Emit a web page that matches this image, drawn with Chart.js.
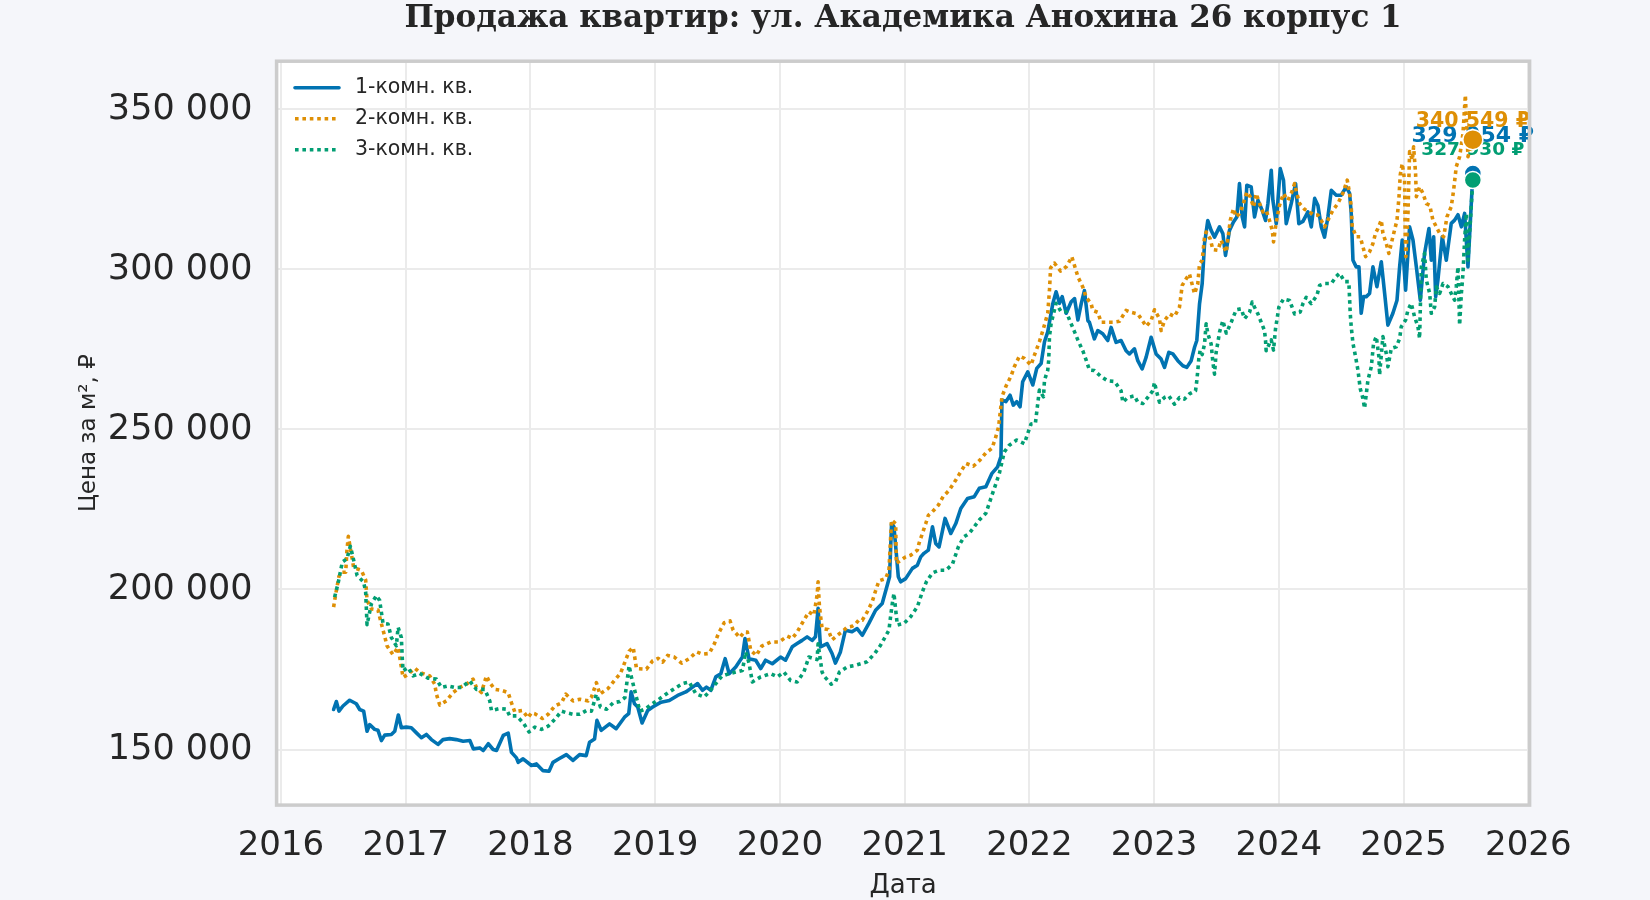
<!DOCTYPE html>
<html><head><meta charset="utf-8">
<script src="https://cdn.jsdelivr.net/npm/chart.js@4.4.1/dist/chart.umd.min.js"></script>
<style>
html,body{margin:0;padding:0;background:#f5f6fa;}
#wrap{width:1650px;height:900px;}
</style></head><body>
<div id="wrap"><canvas id="c" width="1650" height="900"></canvas></div>
<script>
const chartTitle = 'Продажа квартир: ул. Академика Анохина 26 корпус 1';
const xAxisTitle = 'Дата';
const yAxisTitle = 'Цена за м², ₽';
const seriesNames = ['1-комн. кв.', '2-комн. кв.', '3-комн. кв.'];
const xTicks = [2016, 2017, 2018, 2019, 2020, 2021, 2022, 2023, 2024, 2025, 2026];
const yTicks = [150000, 200000, 250000, 300000, 350000];

// 1-комн. кв. (dates as decimal years)
const dates1 = [
2016.422,2016.444,2016.465,2016.497,2016.551,2016.604,2016.631,2016.663,2016.690,2016.711,
2016.751,2016.778,2016.805,2016.832,2016.885,2016.912,2016.941,2016.965,2017.005,2017.045,
2017.086,2017.126,2017.166,2017.206,2017.259,2017.299,2017.353,2017.406,2017.460,2017.515,
2017.542,2017.594,2017.622,2017.662,2017.701,2017.728,2017.782,2017.822,2017.848,2017.888,
2017.902,2017.941,2018.008,2018.048,2018.101,2018.149,2018.181,2018.229,2018.288,2018.341,
2018.394,2018.447,2018.474,2018.514,2018.533,2018.567,2018.634,2018.687,2018.754,2018.788,
2018.807,2018.834,2018.860,2018.895,2018.940,2018.980,2019.047,2019.113,2019.180,2019.246,
2019.300,2019.340,2019.379,2019.411,2019.446,2019.486,2019.526,2019.561,2019.593,2019.646,
2019.699,2019.720,2019.752,2019.806,2019.846,2019.885,2019.939,2020.005,2020.045,2020.099,
2020.138,2020.178,2020.218,2020.258,2020.285,2020.306,2020.325,2020.378,2020.418,2020.445,
2020.485,2020.525,2020.578,2020.619,2020.660,2020.713,2020.767,2020.820,2020.861,2020.879,
2020.895,2020.914,2020.933,2020.949,2020.968,2021.008,2021.062,2021.102,2021.129,2021.155,
2021.190,2021.223,2021.249,2021.276,2021.324,2021.370,2021.410,2021.450,2021.504,2021.558,
2021.598,2021.651,2021.700,2021.745,2021.772,2021.780,2021.812,2021.845,2021.871,2021.898,
2021.925,2021.946,2021.987,2022.027,2022.059,2022.094,2022.121,2022.147,2022.188,2022.214,
2022.241,2022.263,2022.295,2022.335,2022.362,2022.389,2022.416,2022.441,2022.469,2022.481,
2022.521,2022.548,2022.588,2022.628,2022.655,2022.695,2022.735,2022.775,2022.802,2022.842,
2022.869,2022.904,2022.936,2022.976,2023.016,2023.056,2023.083,2023.118,2023.150,2023.190,
2023.230,2023.262,2023.297,2023.324,2023.342,2023.364,2023.385,2023.404,2023.430,2023.457,
2023.484,2023.524,2023.551,2023.572,2023.604,2023.636,2023.663,2023.684,2023.706,2023.725,
2023.743,2023.778,2023.805,2023.832,2023.866,2023.893,2023.912,2023.939,2023.952,2023.979,
2024.011,2024.037,2024.059,2024.099,2024.134,2024.160,2024.193,2024.233,2024.260,2024.287,
2024.313,2024.340,2024.366,2024.393,2024.420,2024.460,2024.500,2024.540,2024.567,2024.580,
2024.594,2024.620,2024.642,2024.660,2024.679,2024.701,2024.727,2024.754,2024.786,2024.821,
2024.848,2024.874,2024.914,2024.947,2024.968,2024.989,2025.016,2025.048,2025.075,2025.102,
2025.134,2025.168,2025.203,2025.222,2025.241,2025.257,2025.275,2025.310,2025.342,2025.382,
2025.409,2025.436,2025.463,2025.489,2025.516,2025.555];
const values1 = [
162500,165000,162000,163600,165400,164300,162500,162000,155700,157800,
156300,156000,152800,154500,154700,155700,160800,156800,157000,156800,
155200,153700,154700,153100,151600,153100,153400,153100,152600,152800,
150200,150500,149700,151800,150000,149700,154400,155100,149100,147400,
146000,147100,145000,145500,143400,143200,146000,147100,148400,146600,
148400,148100,152300,153300,159100,156000,158000,156500,160100,161200,
168000,164300,163300,158300,162200,163300,164800,165300,166900,168000,
169500,170600,168500,169500,168500,172700,173700,178400,173700,175800,
178900,184700,178400,177900,175300,177900,176800,178900,177900,182100,
183100,184100,185200,184100,185200,194100,182100,183100,180000,177000,
180500,187300,186800,187800,185700,189400,193500,195600,201400,204000,
220600,219600,211300,204000,202400,203400,206600,207600,210200,211300,
212300,219600,214400,213300,222200,217500,220600,225300,228400,229000,
231600,232100,236300,238300,241500,259200,258700,260700,257600,258700,
257100,264900,268000,263900,269100,270600,277400,280500,289400,293000,
289400,291500,286300,289900,290900,284200,289400,293400,284000,283500,
278300,280900,279900,277800,281900,277200,277800,274600,273600,275200,
271500,268900,272600,278800,273600,272000,269400,274100,273600,271500,
269900,269400,271500,275700,277800,289300,295500,308000,315300,312200,
310100,313300,311200,304400,312200,314800,316400,326800,316400,313300,
326300,325800,316400,321600,318500,315300,320600,331000,321600,314300,
331500,327900,314300,320600,326800,314300,315000,318000,313300,322200,
320000,313300,310100,316400,324700,323200,323200,325800,323800,317500,
302900,300800,300800,286300,291500,291500,292500,300800,294600,302400,
292500,282600,286300,290400,300800,309200,293500,313300,309200,300800,
290400,305000,312800,302900,310200,291500,296700,310200,302900,314400,
315400,317100,313300,317500,300800,329954];

// 2-комн. кв.
const dates2 = [
2016.422,2016.439,2016.465,2016.484,2016.519,2016.529,2016.540,2016.583,2016.644,2016.679,
2016.690,2016.725,2016.778,2016.797,2016.830,2016.850,2016.898,2016.939,2016.979,2017.019,
2017.072,2017.112,2017.193,2017.233,2017.246,2017.273,2017.326,2017.380,2017.433,2017.487,
2017.540,2017.567,2017.607,2017.647,2017.674,2017.714,2017.767,2017.821,2017.848,2017.874,
2017.936,2017.981,2018.008,2018.035,2018.096,2018.142,2018.195,2018.249,2018.283,2018.342,
2018.396,2018.463,2018.489,2018.529,2018.556,2018.623,2018.676,2018.722,2018.791,2018.824,
2018.837,2018.850,2018.930,2018.979,2019.024,2019.060,2019.100,2019.153,2019.212,2019.273,
2019.332,2019.379,2019.433,2019.473,2019.507,2019.553,2019.600,2019.625,2019.646,2019.678,
2019.712,2019.739,2019.766,2019.811,2019.854,2019.925,2019.992,2020.059,2020.099,2020.138,
2020.192,2020.232,2020.272,2020.298,2020.306,2020.317,2020.338,2020.386,2020.418,2020.471,
2020.500,2020.538,2020.578,2020.606,2020.631,2020.660,2020.700,2020.740,2020.767,2020.794,
2020.847,2020.874,2020.895,2020.928,2020.933,2020.954,2021.008,2021.048,2021.102,2021.115,
2021.169,2021.190,2021.223,2021.271,2021.308,2021.357,2021.410,2021.450,2021.491,2021.550,
2021.603,2021.651,2021.700,2021.727,2021.753,2021.780,2021.812,2021.853,2021.879,2021.920,
2021.960,2022.013,2022.040,2022.080,2022.113,2022.147,2022.161,2022.170,2022.200,2022.250,
2022.300,2022.340,2022.389,2022.428,2022.455,2022.495,2022.508,2022.548,2022.575,2022.615,
2022.668,2022.722,2022.775,2022.816,2022.869,2022.896,2022.936,2022.976,2023.003,2023.043,
2023.056,2023.083,2023.123,2023.163,2023.203,2023.225,2023.257,2023.283,2023.324,2023.350,
2023.364,2023.385,2023.404,2023.417,2023.449,2023.471,2023.511,2023.537,2023.578,2023.610,
2023.636,2023.658,2023.684,2023.711,2023.743,2023.770,2023.797,2023.818,2023.845,2023.872,
2023.898,2023.925,2023.947,2023.957,2023.979,2024.005,2024.037,2024.072,2024.099,2024.126,
2024.144,2024.166,2024.206,2024.246,2024.286,2024.313,2024.340,2024.367,2024.393,2024.433,
2024.473,2024.513,2024.548,2024.567,2024.580,2024.588,2024.620,2024.652,2024.674,2024.695,
2024.727,2024.754,2024.775,2024.794,2024.821,2024.834,2024.861,2024.882,2024.914,2024.947,
2024.963,2024.973,2024.989,2025.008,2025.012,2025.018,2025.035,2025.048,2025.070,2025.080,
2025.096,2025.102,2025.128,2025.155,2025.182,2025.209,2025.235,2025.262,2025.289,2025.321,
2025.348,2025.382,2025.401,2025.422,2025.449,2025.476,2025.489,2025.495,2025.503,2025.516,
2025.555];
const values2 = [
194500,198600,204100,205400,205400,212200,216600,206800,206000,203000,
196600,193900,193600,190500,185600,182400,179600,181900,172500,173500,
175400,174100,173000,170400,167300,163900,165200,167800,169400,170400,
172000,169400,167800,173000,170900,168800,168500,167800,164600,161800,
162200,159900,161500,161200,159700,161000,163600,164600,167300,165200,
165700,165200,166400,170900,167300,169100,171700,173800,180700,181900,
178600,175300,175100,177700,178500,177300,179400,178900,177000,178400,
180500,179800,180000,182900,186200,189600,190200,187300,186400,185000,
186700,186700,181000,179400,182300,183600,183600,185400,184700,186700,
190400,193000,192000,198200,202400,194600,187800,187500,184300,186000,
186800,188200,188500,189200,190400,190400,193000,196200,199600,202700,
203400,206000,221700,220600,208100,208700,210200,210700,212300,214400,
220600,223200,224300,226400,229000,231000,234200,236800,239400,238500,
240400,242700,244100,247200,250800,260200,263500,266700,269600,272900,
272200,270100,273200,277400,281600,286300,293500,300500,302000,299500,
301000,304000,297700,294500,291300,289300,287200,286600,283500,283500,
283500,283800,287200,286600,286100,284600,282200,284000,287400,284600,
280900,284000,286100,285300,288200,295000,297100,298600,292400,295500,
301800,302800,310100,311700,309600,306200,306000,309100,305400,315300,
319000,316400,317400,320000,324200,322700,319500,323700,320600,318000,
318500,315300,312200,308600,314800,320000,323700,321600,323700,326800,
323700,320600,318800,317900,316900,317000,315300,313300,315400,318500,
320600,323800,327900,323800,319600,313300,310200,310200,307100,304000,
305500,308100,311300,312800,315400,311300,308100,305000,310200,315400,
322700,329500,333100,327900,312300,304000,317500,336800,334200,338300,
330000,322700,325800,323800,320600,320100,315400,313300,311300,310200,
316500,319600,324800,332100,335200,342500,350800,354500,346700,335200,
340549];

// 3-комн. кв.
const dates3 = [
2016.430,2016.457,2016.492,2016.529,2016.556,2016.572,2016.610,2016.663,2016.679,2016.690,
2016.725,2016.765,2016.791,2016.818,2016.858,2016.885,2016.925,2016.939,2016.965,2016.973,
2016.979,2017.019,2017.059,2017.112,2017.179,2017.246,2017.286,2017.340,2017.393,2017.447,
2017.513,2017.567,2017.634,2017.674,2017.687,2017.754,2017.807,2017.834,2017.888,2017.941,
2017.989,2018.035,2018.088,2018.142,2018.195,2018.249,2018.289,2018.342,2018.396,2018.449,
2018.489,2018.529,2018.561,2018.610,2018.663,2018.717,2018.757,2018.791,2018.810,2018.837,
2018.877,2018.917,2018.971,2019.015,2019.073,2019.113,2019.153,2019.220,2019.273,2019.326,
2019.393,2019.433,2019.486,2019.534,2019.593,2019.646,2019.699,2019.726,2019.752,2019.779,
2019.846,2019.925,2019.979,2020.032,2020.085,2020.138,2020.192,2020.232,2020.298,2020.306,
2020.338,2020.359,2020.412,2020.445,2020.477,2020.538,2020.604,2020.698,2020.760,2020.807,
2020.874,2020.887,2020.901,2020.914,2020.941,2020.995,2021.048,2021.102,2021.142,2021.174,
2021.223,2021.276,2021.330,2021.383,2021.432,2021.477,2021.517,2021.558,2021.598,2021.651,
2021.678,2021.700,2021.732,2021.759,2021.799,2021.839,2021.898,2021.960,2021.987,2022.013,
2022.048,2022.067,2022.080,2022.113,2022.121,2022.147,2022.155,2022.161,2022.174,2022.214,
2022.254,2022.295,2022.322,2022.362,2022.389,2022.428,2022.455,2022.481,2022.521,2022.575,
2022.628,2022.682,2022.735,2022.749,2022.789,2022.842,2022.869,2022.909,2022.949,2022.989,
2023.003,2023.021,2023.043,2023.083,2023.118,2023.163,2023.203,2023.243,2023.283,2023.332,
2023.342,2023.350,2023.358,2023.369,2023.385,2023.404,2023.417,2023.431,2023.457,2023.471,
2023.484,2023.497,2023.511,2023.524,2023.551,2023.578,2023.618,2023.658,2023.698,2023.725,
2023.765,2023.786,2023.805,2023.832,2023.858,2023.885,2023.893,2023.898,2023.939,2023.957,
2023.973,2024.000,2024.037,2024.086,2024.126,2024.171,2024.193,2024.219,2024.259,2024.305,
2024.326,2024.367,2024.420,2024.460,2024.487,2024.527,2024.561,2024.572,2024.580,2024.594,
2024.615,2024.634,2024.652,2024.674,2024.687,2024.714,2024.741,2024.759,2024.781,2024.802,
2024.807,2024.834,2024.866,2024.874,2024.901,2024.941,2024.968,2024.981,2025.016,2025.035,
2025.061,2025.088,2025.115,2025.128,2025.142,2025.168,2025.182,2025.209,2025.222,2025.249,
2025.262,2025.289,2025.316,2025.356,2025.382,2025.409,2025.422,2025.436,2025.449,2025.463,
2025.476,2025.489,2025.503,2025.516,2025.555];
const values3 = [
197600,201800,208600,209600,213500,211000,204400,202300,199200,189000,
195500,198100,196600,189400,189200,185000,182400,188200,185000,178200,
174600,175600,173000,173800,172300,172000,169400,169900,169400,169400,
171400,168800,168800,165200,162200,162800,162600,160500,160500,158400,
155500,157000,156300,157300,159400,162000,161500,161000,161000,162200,
162000,167300,163300,162600,164600,165000,166200,176200,172500,168300,
162000,162600,164100,165300,166900,168000,169000,170600,171100,167400,
166400,168000,170600,172900,173700,174200,174700,180500,177000,171100,
172700,173700,172700,174200,171600,171100,174200,178900,178100,183000,
174200,172700,170400,171100,174200,175800,176300,177400,180000,182600,
187300,191500,195600,198800,188900,189400,191500,194600,199300,202400,
205200,206000,206000,207900,213500,216500,217500,219600,221700,223800,
226900,229500,233100,236300,243000,245100,246700,245600,248800,251700,
251900,258100,262300,260200,265400,268500,271700,279000,283100,289400,
286800,286800,284200,280500,277900,274600,271700,268600,268400,266500,
265200,265000,262100,258500,260000,260500,258500,258100,260000,262100,
264700,261600,258500,260000,260500,257900,260000,259500,261100,262100,
265200,268400,272000,274800,273400,276700,283000,279900,276700,271000,
267300,274100,277200,280400,284000,280100,283500,287400,287700,284600,
286600,289800,288200,286100,283500,280900,277800,274600,278000,274800,
281400,288200,290800,290300,286100,286700,289300,291300,289300,291900,
295000,295600,295600,297800,298800,296200,296200,286300,282100,276900,
272700,268500,262800,259700,256600,265400,269600,276900,279000,272700,
267000,279000,272700,269600,275300,275800,278400,282100,284200,287300,
289400,285200,282100,278400,300800,305000,296700,292500,286300,288300,
294600,292500,295600,294600,292500,290400,294600,300800,282600,292500,
298800,309200,317500,302900,327930];

const seriesColors = ['#0173b2', '#de8f05', '#029e73'];

const fmt = v => Math.round(v).toString().replace(/\B(?=(\d{3})+(?!\d))/g, ' ');
const toPts = (d, v) => { const n = Math.min(d.length, v.length); const out = []; for (let i = 0; i < n; i++) out.push({x: d[i], y: v[i]}); return out; };

const endRadius = [8.5, 10, 8.5];
const endLabel = [{size: 22, dy: -31.8}, {size: 20.5, dy: -12.9}, {size: 18.5, dy: -25}];

function makeSet(i, dates, vals, dash, width, order) {
  const data = toPts(dates, vals);
  const last = data.length - 1;
  return {
    label: seriesNames[i], data,
    borderColor: seriesColors[i], backgroundColor: seriesColors[i],
    borderWidth: width, borderDash: dash, borderCapStyle: dash.length ? 'butt' : 'round',
    borderJoinStyle: 'round', tension: 0, fill: false, order,
    pointRadius: ctx => ctx.dataIndex === last ? endRadius[i] : 0,
    pointHoverRadius: ctx => ctx.dataIndex === last ? endRadius[i] : 0,
    pointHitRadius: 0,
    pointBackgroundColor: seriesColors[i], pointBorderColor: '#ffffff', pointBorderWidth: 1.5
  };
}

const decor = {
  id: 'decor',
  beforeDraw(chart) {
    const {ctx, chartArea: a, width, height} = chart;
    ctx.save();
    ctx.fillStyle = '#f5f6fa'; ctx.fillRect(0, 0, width, height);
    ctx.fillStyle = '#ffffff'; ctx.fillRect(a.left, a.top, a.right - a.left, a.bottom - a.top);
    ctx.restore();
  },
  beforeDatasetsDraw(chart) {
    const {ctx} = chart;
    chart.data.datasets.forEach((ds, i) => {
      const meta = chart.getDatasetMeta(i);
      const pt = meta.data[meta.data.length - 1];
      const st = endLabel[i];
      ctx.save();
      ctx.font = `bold ${st.size}px 'DejaVu Sans'`;
      ctx.fillStyle = ds.borderColor; ctx.textAlign = 'center'; ctx.textBaseline = 'alphabetic';
      ctx.fillText(fmt(ds.data[ds.data.length - 1].y) + ' ₽', pt.x, pt.y + st.dy);
      ctx.restore();
    });
  },
  afterDatasetsDraw(chart) {
    const {ctx, chartArea: a} = chart;
    ctx.save();
    ctx.strokeStyle = '#cccccc'; ctx.lineWidth = 3.5;
    ctx.strokeRect(a.left, a.top, a.right - a.left, a.bottom - a.top);
    ctx.restore();
    chart.data.datasets.forEach((ds, i) => {
      const y = a.top + 26.5 + i * 31;
      const x0 = a.left + 18.4;
      ctx.save();
      ctx.strokeStyle = ds.borderColor; ctx.lineWidth = ds.borderWidth;
      ctx.setLineDash(ds.borderDash || []);
      ctx.lineCap = ds.borderDash && ds.borderDash.length ? 'butt' : 'round';
      ctx.beginPath(); ctx.moveTo(x0, y); ctx.lineTo(x0 + 44, y); ctx.stroke();
      ctx.setLineDash([]);
      ctx.fillStyle = '#262626'; ctx.font = "20.5px 'DejaVu Sans'";
      ctx.textBaseline = 'middle'; ctx.textAlign = 'left';
      ctx.fillText(ds.label, x0 + 60, y);
      ctx.restore();
    });
  }
};

Chart.defaults.font.family = "'DejaVu Sans', sans-serif";
Chart.defaults.color = '#262626';

new Chart(document.getElementById('c'), {
  type: 'line',
  data: {
    datasets: [
      makeSet(0, dates1, values1, [], 3.6, 3),
      makeSet(1, dates2, values2, [3.6, 3.8], 3.6, 2),
      makeSet(2, dates3, values3, [3.6, 3.8], 3.6, 1)
    ]
  },
  options: {
    responsive: false, animation: false, devicePixelRatio: 1,
    layout: {padding: {left: 0, right: 120.4, top: 0, bottom: 0}},
    plugins: {
      legend: {display: false},
      tooltip: {enabled: false},
      title: {
        display: true, text: chartTitle, fullSize: false, color: '#262626',
        font: {family: "'DejaVu Serif', serif", size: 31, weight: 'bold', lineHeight: 1.2},
        padding: {top: 0.5, bottom: 23.5}
      }
    },
    scales: {
      x: {
        type: 'linear', min: 2015.965, max: 2026.01,
        afterBuildTicks: s => { s.ticks = xTicks.map(v => ({value: v})); },
        afterFit: s => { s.height = 94.9; },
        ticks: {callback: v => String(v), font: {size: 34}, color: '#262626', padding: 20.5, autoSkip: false, maxRotation: 0},
        grid: {color: '#ebebeb', lineWidth: 2, drawTicks: false},
        border: {display: false},
        title: {display: true, text: xAxisTitle, color: '#262626', font: {size: 26, lineHeight: 1}, padding: {top: 0, bottom: 1}}
      },
      y: {
        type: 'linear', min: 132635, max: 365065,
        afterBuildTicks: s => { s.ticks = yTicks.map(v => ({value: v})); },
        afterFit: s => { s.width = 276.6; },
        ticks: {callback: v => fmt(v), font: {size: 35}, color: '#262626', padding: 24, autoSkip: false},
        grid: {color: '#ebebeb', lineWidth: 2, drawTicks: false},
        border: {display: false},
        title: {display: true, text: yAxisTitle, color: '#262626', font: {size: 23, lineHeight: 1.2}, padding: {top: 75.2, bottom: 0}}
      }
    }
  },
  plugins: [decor]
});
</script>
</body></html>
